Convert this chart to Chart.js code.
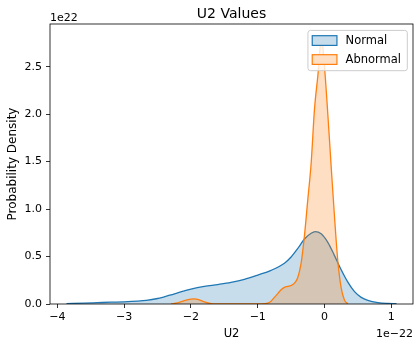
<!DOCTYPE html>
<html>
<head>
<meta charset="utf-8">
<script src="https://cdn.jsdelivr.net/npm/chart.js@4.4.1/dist/chart.umd.min.js"></script>
<style>
  html, body { margin: 0; padding: 0; background: #fff; }
  #wrap { width: 420px; height: 348px; position: relative; }
</style>
</head>
<body>
<div id="wrap"><canvas id="chart"></canvas></div>
<script>
// KDE curves (x in units of 1e-22, density in units of 1e22)
const normalX = [-3.865, -3.6, -3.4, -3.2, -3.0, -2.8, -2.67, -2.5, -2.4, -2.3, -2.2, -2.1, -2.0, -1.8, -1.6, -1.4, -1.2, -1.0, -0.8, -0.6, -0.5, -0.4, -0.3, -0.2, -0.14, -0.05, 0.05, 0.15, 0.25, 0.35, 0.45, 0.55, 0.65, 0.8, 0.95, 1.079];
const normalY = [0.004, 0.009, 0.014, 0.019, 0.023, 0.03, 0.038, 0.058, 0.076, 0.095, 0.118, 0.138, 0.157, 0.185, 0.205, 0.228, 0.26, 0.305, 0.355, 0.43, 0.495, 0.585, 0.685, 0.745, 0.762, 0.74, 0.65, 0.51, 0.36, 0.23, 0.13, 0.07, 0.038, 0.015, 0.006, 0.003];

const abnormalX = [-2.3, -2.2, -2.1, -2.0, -1.95, -1.9, -1.8, -1.7, -1.6, -1.3, -1.0, -0.9, -0.85, -0.8, -0.75, -0.7, -0.65, -0.6, -0.55, -0.5, -0.45, -0.4, -0.35, -0.3, -0.25, -0.2, -0.15, -0.1, -0.045, 0.0, 0.05, 0.1, 0.15, 0.2, 0.25, 0.3, 0.35];
const abnormalY = [0.001, 0.012, 0.035, 0.052, 0.055, 0.05, 0.022, 0.004, 0.001, 0.0, 0.0, 0.003, 0.01, 0.03, 0.07, 0.11, 0.15, 0.175, 0.185, 0.195, 0.22, 0.28, 0.43, 0.72, 1.1, 1.48, 2.05, 2.4, 2.8, 2.5, 2.0, 1.45, 0.92, 0.45, 0.17, 0.04, 0.003];

const xTicks = [-4, -3, -2, -1, 0, 1];
const yTicks = [0, 0.5, 1.0, 1.5, 2.0, 2.5];

const FONT = 'DejaVu Sans';

function toPoints(xs, ys) {
    return xs.map((x, i) => ({ x: x, y: ys[i] }));
}

function fmtX(v) {
    return v < 0 ? '\u2212' + Math.abs(v) : String(v);
}

// titles, offset texts, spines and legend in matplotlib style
const decor = {
    id: 'decor',
    afterDatasetsDraw(chart) {
        const ctx = chart.ctx;
        const a = chart.chartArea;
        ctx.save();
        ctx.strokeStyle = '#000';
        ctx.lineWidth = 0.8;
        ctx.strokeRect(a.left, a.top, a.right - a.left, a.bottom - a.top);

        ctx.fillStyle = '#000';
        ctx.textBaseline = 'alphabetic';
        const cx = (a.left + a.right) / 2;

        ctx.font = '14px "' + FONT + '"';
        ctx.textAlign = 'center';
        ctx.fillText('U2 Values', cx, 17.7);

        ctx.font = '11px "' + FONT + '"';
        ctx.textAlign = 'left';
        ctx.fillText('1e22', a.left, 21.3);
        ctx.textAlign = 'right';
        ctx.fillText('1e\u221222', a.right, 337.3);

        ctx.font = '11.5px "' + FONT + '"';
        ctx.textAlign = 'center';
        ctx.fillText('U2', cx, 337.3);

        ctx.save();
        ctx.translate(16, (a.top + a.bottom) / 2);
        ctx.rotate(-Math.PI / 2);
        ctx.font = '12px "' + FONT + '"';
        ctx.fillText('Probability Density', 0, 0);
        ctx.restore();

        // legend
        ctx.font = '11.5px "' + FONT + '"';
        const sets = chart.data.datasets;
        let tw = 0;
        sets.forEach(d => { tw = Math.max(tw, ctx.measureText(d.label).width); });
        const w = 37.6 + tw + 6.3;
        const h = 40.3;
        const bx = a.right - 5.7 - w;
        const by = a.top + 6.4;
        ctx.beginPath();
        ctx.roundRect(bx, by, w, h, 2.5);
        ctx.fillStyle = 'rgba(255,255,255,0.8)';
        ctx.fill();
        ctx.strokeStyle = '#cccccc';
        ctx.lineWidth = 1;
        ctx.stroke();
        sets.forEach((d, i) => {
            const py = by + 5.3 + i * 19;
            ctx.fillStyle = '#fff';
            ctx.fillRect(bx + 4.3, py, 24.7, 9.7);
            ctx.fillStyle = d.backgroundColor;
            ctx.fillRect(bx + 4.3, py, 24.7, 9.7);
            ctx.strokeStyle = d.borderColor;
            ctx.lineWidth = 1.2;
            ctx.strokeRect(bx + 4.3, py, 24.7, 9.7);
            ctx.fillStyle = '#000';
            ctx.textAlign = 'left';
            ctx.textBaseline = 'middle';
            ctx.fillText(d.label, bx + 37.6, py + 5);
        });
        ctx.restore();
    }
};

new Chart(document.getElementById('chart').getContext('2d'), {
    type: 'line',
    data: {
        datasets: [{
            label: 'Normal',
            data: toPoints(normalX, normalY),
            borderColor: '#1f77b4',
            backgroundColor: 'rgba(31,119,180,0.25)',
            borderWidth: 1.3,
            fill: 'origin',
            pointRadius: 0,
            cubicInterpolationMode: 'monotone',
            order: 2
        }, {
            label: 'Abnormal',
            data: toPoints(abnormalX, abnormalY),
            borderColor: '#ff7f0e',
            backgroundColor: 'rgba(255,127,14,0.25)',
            borderWidth: 1.3,
            fill: 'origin',
            pointRadius: 0,
            cubicInterpolationMode: 'monotone',
            order: 1
        }]
    },
    options: {
        responsive: true,
        maintainAspectRatio: false,
        animation: false,
        layout: { padding: { left: 0, top: 24, right: 7, bottom: 0 } },
        plugins: {
            legend: { display: false },
            title: { display: false },
            tooltip: { enabled: false }
        },
        scales: {
            x: {
                type: 'linear',
                min: -4.112,
                max: 1.326,
                afterBuildTicks: s => { s.ticks = xTicks.map(v => ({ value: v })); },
                afterFit: s => { s.height = 44; },
                ticks: {
                    callback: v => fmtX(v),
                    color: '#000',
                    font: { family: FONT, size: 11 },
                    padding: 3,
                    maxRotation: 0
                },
                grid: { drawOnChartArea: false, tickLength: 4, color: '#000', lineWidth: 0.8 },
                border: { display: false }
            },
            y: {
                min: 0,
                max: 2.95,
                afterBuildTicks: s => { s.ticks = yTicks.map(v => ({ value: v })); },
                afterFit: s => { s.width = 50; },
                ticks: {
                    callback: v => v.toFixed(1),
                    color: '#000',
                    font: { family: FONT, size: 11 },
                    padding: 4
                },
                grid: { drawOnChartArea: false, tickLength: 4, color: '#000', lineWidth: 0.8 },
                border: { display: false }
            }
        }
    },
    plugins: [decor]
});
</script>
</body>
</html>
